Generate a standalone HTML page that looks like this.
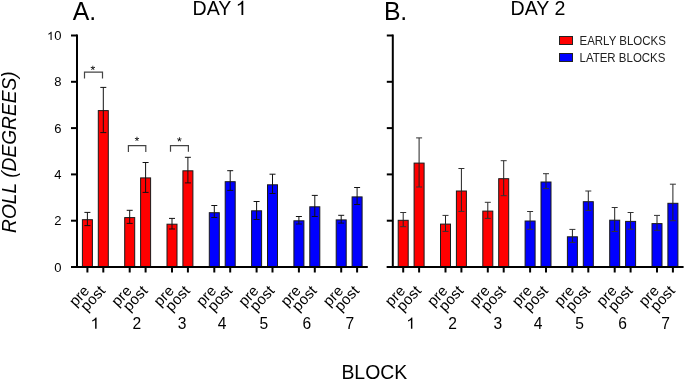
<!DOCTYPE html>
<html><head><meta charset="utf-8"><title>Roll by block</title><style>
html,body{margin:0;padding:0;background:#fff;}
body{width:685px;height:380px;overflow:hidden;}
.wrap{will-change:transform;width:685px;height:380px;}
svg{display:block;font-family:"Liberation Sans",sans-serif;}
</style></head><body>
<div class="wrap">
<svg width="685" height="380" viewBox="0 0 685 380">
<rect x="82.4" y="219.7" width="10" height="47.3" fill="#ff0000" stroke="#1a1a1a" stroke-width="1"/>
<path d="M87.4 212.4V225.6" stroke="#111" stroke-width="1" fill="none"/>
<path d="M84.4 212.4H90.4M84.4 225.6H90.4" stroke="#111" stroke-width="1" fill="none"/>
<path d="M87.4 267V272.5" stroke="#000" stroke-width="2"/>
<text transform="translate(90.3 291.4) rotate(-47)" text-anchor="end" font-size="15">pre</text>
<rect x="98.3" y="110.6" width="10" height="156.4" fill="#ff0000" stroke="#1a1a1a" stroke-width="1"/>
<path d="M103.3 87.4V132.6" stroke="#111" stroke-width="1" fill="none"/>
<path d="M100.3 87.4H106.3M100.3 132.6H106.3" stroke="#111" stroke-width="1" fill="none"/>
<path d="M103.3 267V272.5" stroke="#000" stroke-width="2"/>
<text transform="translate(106.2 291.4) rotate(-47)" text-anchor="end" font-size="15">post</text>
<path d="M763 0L583 0L583 1102Q518 1043 412 983Q306 924 222 894L222 1061Q373 1129 486 1226Q599 1324 646 1409L763 1409Z" transform="translate(90.463 328.7) scale(0.008 -0.008)" fill="#000"/>
<rect x="124.7" y="217.6" width="10" height="49.4" fill="#ff0000" stroke="#1a1a1a" stroke-width="1"/>
<path d="M129.7 210.3V223.4" stroke="#111" stroke-width="1" fill="none"/>
<path d="M126.7 210.3H132.7M126.7 223.4H132.7" stroke="#111" stroke-width="1" fill="none"/>
<path d="M129.7 267V272.5" stroke="#000" stroke-width="2"/>
<text transform="translate(132.6 291.4) rotate(-47)" text-anchor="end" font-size="15">pre</text>
<rect x="140.6" y="177.9" width="10" height="89.1" fill="#ff0000" stroke="#1a1a1a" stroke-width="1"/>
<path d="M145.6 162.5V192.4" stroke="#111" stroke-width="1" fill="none"/>
<path d="M142.6 162.5H148.6M142.6 192.4H148.6" stroke="#111" stroke-width="1" fill="none"/>
<path d="M145.6 267V272.5" stroke="#000" stroke-width="2"/>
<text transform="translate(148.5 291.4) rotate(-47)" text-anchor="end" font-size="15">post</text>
<text x="136.9" y="328.7" text-anchor="middle" font-size="15.6">2</text>
<rect x="167" y="224.2" width="10" height="42.8" fill="#ff0000" stroke="#1a1a1a" stroke-width="1"/>
<path d="M172 218.4V229" stroke="#111" stroke-width="1" fill="none"/>
<path d="M169 218.4H175M169 229H175" stroke="#111" stroke-width="1" fill="none"/>
<path d="M172 267V272.5" stroke="#000" stroke-width="2"/>
<text transform="translate(174.9 291.4) rotate(-47)" text-anchor="end" font-size="15">pre</text>
<rect x="182.9" y="170.8" width="10" height="96.2" fill="#ff0000" stroke="#1a1a1a" stroke-width="1"/>
<path d="M187.9 157.3V182.9" stroke="#111" stroke-width="1" fill="none"/>
<path d="M184.9 157.3H190.9M184.9 182.9H190.9" stroke="#111" stroke-width="1" fill="none"/>
<path d="M187.9 267V272.5" stroke="#000" stroke-width="2"/>
<text transform="translate(190.8 291.4) rotate(-47)" text-anchor="end" font-size="15">post</text>
<text x="182.1" y="328.7" text-anchor="middle" font-size="15.6">3</text>
<rect x="209.3" y="212.7" width="10" height="54.3" fill="#0000ff" stroke="#1a1a1a" stroke-width="1"/>
<path d="M214.3 205.5V217.5" stroke="#111" stroke-width="1" fill="none"/>
<path d="M211.3 205.5H217.3M211.3 217.5H217.3" stroke="#111" stroke-width="1" fill="none"/>
<path d="M214.3 267V272.5" stroke="#000" stroke-width="2"/>
<text transform="translate(217.2 291.4) rotate(-47)" text-anchor="end" font-size="15">pre</text>
<rect x="225.2" y="181.7" width="10" height="85.3" fill="#0000ff" stroke="#1a1a1a" stroke-width="1"/>
<path d="M230.2 170.7V190.4" stroke="#111" stroke-width="1" fill="none"/>
<path d="M227.2 170.7H233.2M227.2 190.4H233.2" stroke="#111" stroke-width="1" fill="none"/>
<path d="M230.2 267V272.5" stroke="#000" stroke-width="2"/>
<text transform="translate(233.1 291.4) rotate(-47)" text-anchor="end" font-size="15">post</text>
<text x="222.2" y="328.7" text-anchor="middle" font-size="15.6">4</text>
<rect x="251.6" y="210.8" width="10" height="56.2" fill="#0000ff" stroke="#1a1a1a" stroke-width="1"/>
<path d="M256.6 201.5V219.5" stroke="#111" stroke-width="1" fill="none"/>
<path d="M253.6 201.5H259.6M253.6 219.5H259.6" stroke="#111" stroke-width="1" fill="none"/>
<path d="M256.6 267V272.5" stroke="#000" stroke-width="2"/>
<text transform="translate(259.5 291.4) rotate(-47)" text-anchor="end" font-size="15">pre</text>
<rect x="267.5" y="184.8" width="10" height="82.2" fill="#0000ff" stroke="#1a1a1a" stroke-width="1"/>
<path d="M272.5 174.2V193.5" stroke="#111" stroke-width="1" fill="none"/>
<path d="M269.5 174.2H275.5M269.5 193.5H275.5" stroke="#111" stroke-width="1" fill="none"/>
<path d="M272.5 267V272.5" stroke="#000" stroke-width="2"/>
<text transform="translate(275.4 291.4) rotate(-47)" text-anchor="end" font-size="15">post</text>
<text x="263.8" y="328.7" text-anchor="middle" font-size="15.6">5</text>
<rect x="293.9" y="220.8" width="10" height="46.2" fill="#0000ff" stroke="#1a1a1a" stroke-width="1"/>
<path d="M298.9 216.5V224" stroke="#111" stroke-width="1" fill="none"/>
<path d="M295.9 216.5H301.9M295.9 224H301.9" stroke="#111" stroke-width="1" fill="none"/>
<path d="M298.9 267V272.5" stroke="#000" stroke-width="2"/>
<text transform="translate(301.8 291.4) rotate(-47)" text-anchor="end" font-size="15">pre</text>
<rect x="309.8" y="206.8" width="10" height="60.2" fill="#0000ff" stroke="#1a1a1a" stroke-width="1"/>
<path d="M314.8 195.4V216.5" stroke="#111" stroke-width="1" fill="none"/>
<path d="M311.8 195.4H317.8M311.8 216.5H317.8" stroke="#111" stroke-width="1" fill="none"/>
<path d="M314.8 267V272.5" stroke="#000" stroke-width="2"/>
<text transform="translate(317.7 291.4) rotate(-47)" text-anchor="end" font-size="15">post</text>
<text x="306.75" y="328.7" text-anchor="middle" font-size="15.6">6</text>
<rect x="336.2" y="219.9" width="10" height="47.1" fill="#0000ff" stroke="#1a1a1a" stroke-width="1"/>
<path d="M341.2 215.3V223.1" stroke="#111" stroke-width="1" fill="none"/>
<path d="M338.2 215.3H344.2M338.2 223.1H344.2" stroke="#111" stroke-width="1" fill="none"/>
<path d="M341.2 267V272.5" stroke="#000" stroke-width="2"/>
<text transform="translate(344.1 291.4) rotate(-47)" text-anchor="end" font-size="15">pre</text>
<rect x="352.1" y="196.9" width="10" height="70.1" fill="#0000ff" stroke="#1a1a1a" stroke-width="1"/>
<path d="M357.1 187.5V204.5" stroke="#111" stroke-width="1" fill="none"/>
<path d="M354.1 187.5H360.1M354.1 204.5H360.1" stroke="#111" stroke-width="1" fill="none"/>
<path d="M357.1 267V272.5" stroke="#000" stroke-width="2"/>
<text transform="translate(360 291.4) rotate(-47)" text-anchor="end" font-size="15">post</text>
<text x="349.85" y="328.7" text-anchor="middle" font-size="15.6">7</text>
<path d="M77 34.5V268" stroke="#000" stroke-width="2" fill="none"/>
<path d="M71 267H367.8" stroke="#000" stroke-width="2" fill="none"/>
<path d="M71 267H77" stroke="#000" stroke-width="2"/>
<text x="61.5" y="271.6" text-anchor="end" font-size="13">0</text>
<path d="M71 220.7H77" stroke="#000" stroke-width="2"/>
<text x="61.5" y="225.3" text-anchor="end" font-size="13">2</text>
<path d="M71 174.4H77" stroke="#000" stroke-width="2"/>
<text x="61.5" y="179" text-anchor="end" font-size="13">4</text>
<path d="M71 128.1H77" stroke="#000" stroke-width="2"/>
<text x="61.5" y="132.7" text-anchor="end" font-size="13">6</text>
<path d="M71 81.8H77" stroke="#000" stroke-width="2"/>
<text x="61.5" y="86.4" text-anchor="end" font-size="13">8</text>
<path d="M71 35.5H77" stroke="#000" stroke-width="2"/>
<path d="M763 0L583 0L583 1102Q518 1043 412 983Q306 924 222 894L222 1061Q373 1129 486 1226Q599 1324 646 1409L763 1409Z" transform="translate(47.044 40.1) scale(0.006 -0.006)" fill="#000"/>
<text x="54.272" y="40.1" font-size="13">0</text>
<rect x="398.2" y="220.3" width="10" height="46.7" fill="#ff0000" stroke="#1a1a1a" stroke-width="1"/>
<path d="M403.2 212.5V226.7" stroke="#222" stroke-width="1" fill="none"/>
<path d="M400.2 212.5H406.2M400.2 226.7H406.2" stroke="#333" stroke-width="1" fill="none"/>
<path d="M403.2 267V272.5" stroke="#000" stroke-width="2"/>
<text transform="translate(406.1 291.4) rotate(-47)" text-anchor="end" font-size="15">pre</text>
<rect x="414.1" y="163.1" width="10" height="103.9" fill="#ff0000" stroke="#1a1a1a" stroke-width="1"/>
<path d="M419.1 137.9V187" stroke="#222" stroke-width="1" fill="none"/>
<path d="M416.1 137.9H422.1M416.1 187H422.1" stroke="#333" stroke-width="1" fill="none"/>
<path d="M419.1 267V272.5" stroke="#000" stroke-width="2"/>
<text transform="translate(422 291.4) rotate(-47)" text-anchor="end" font-size="15">post</text>
<path d="M763 0L583 0L583 1102Q518 1043 412 983Q306 924 222 894L222 1061Q373 1129 486 1226Q599 1324 646 1409L763 1409Z" transform="translate(406.263 328.7) scale(0.008 -0.008)" fill="#000"/>
<rect x="440.5" y="224.1" width="10" height="42.9" fill="#ff0000" stroke="#1a1a1a" stroke-width="1"/>
<path d="M445.5 215.4V231.4" stroke="#222" stroke-width="1" fill="none"/>
<path d="M442.5 215.4H448.5M442.5 231.4H448.5" stroke="#333" stroke-width="1" fill="none"/>
<path d="M445.5 267V272.5" stroke="#000" stroke-width="2"/>
<text transform="translate(448.4 291.4) rotate(-47)" text-anchor="end" font-size="15">pre</text>
<rect x="456.4" y="191" width="10" height="76" fill="#ff0000" stroke="#1a1a1a" stroke-width="1"/>
<path d="M461.4 168.5V211.4" stroke="#222" stroke-width="1" fill="none"/>
<path d="M458.4 168.5H464.4M458.4 211.4H464.4" stroke="#333" stroke-width="1" fill="none"/>
<path d="M461.4 267V272.5" stroke="#000" stroke-width="2"/>
<text transform="translate(464.3 291.4) rotate(-47)" text-anchor="end" font-size="15">post</text>
<text x="452.7" y="328.7" text-anchor="middle" font-size="15.6">2</text>
<rect x="482.8" y="211.1" width="10" height="55.9" fill="#ff0000" stroke="#1a1a1a" stroke-width="1"/>
<path d="M487.8 202.3V218.4" stroke="#222" stroke-width="1" fill="none"/>
<path d="M484.8 202.3H490.8M484.8 218.4H490.8" stroke="#333" stroke-width="1" fill="none"/>
<path d="M487.8 267V272.5" stroke="#000" stroke-width="2"/>
<text transform="translate(490.7 291.4) rotate(-47)" text-anchor="end" font-size="15">pre</text>
<rect x="498.7" y="178.7" width="10" height="88.3" fill="#ff0000" stroke="#1a1a1a" stroke-width="1"/>
<path d="M503.7 160.7V195.7" stroke="#222" stroke-width="1" fill="none"/>
<path d="M500.7 160.7H506.7M500.7 195.7H506.7" stroke="#333" stroke-width="1" fill="none"/>
<path d="M503.7 267V272.5" stroke="#000" stroke-width="2"/>
<text transform="translate(506.6 291.4) rotate(-47)" text-anchor="end" font-size="15">post</text>
<text x="497.9" y="328.7" text-anchor="middle" font-size="15.6">3</text>
<rect x="525.1" y="221" width="10" height="46" fill="#0000ff" stroke="#1a1a1a" stroke-width="1"/>
<path d="M530.1 211.5V229.3" stroke="#222" stroke-width="1" fill="none"/>
<path d="M527.1 211.5H533.1M527.1 229.3H533.1" stroke="#333" stroke-width="1" fill="none"/>
<path d="M530.1 267V272.5" stroke="#000" stroke-width="2"/>
<text transform="translate(533 291.4) rotate(-47)" text-anchor="end" font-size="15">pre</text>
<rect x="541" y="182" width="10" height="85" fill="#0000ff" stroke="#1a1a1a" stroke-width="1"/>
<path d="M546 173.7V188.6" stroke="#222" stroke-width="1" fill="none"/>
<path d="M543 173.7H549M543 188.6H549" stroke="#333" stroke-width="1" fill="none"/>
<path d="M546 267V272.5" stroke="#000" stroke-width="2"/>
<text transform="translate(548.9 291.4) rotate(-47)" text-anchor="end" font-size="15">post</text>
<text x="538" y="328.7" text-anchor="middle" font-size="15.6">4</text>
<rect x="567.4" y="236.8" width="10" height="30.2" fill="#0000ff" stroke="#1a1a1a" stroke-width="1"/>
<path d="M572.4 229.4V242.4" stroke="#222" stroke-width="1" fill="none"/>
<path d="M569.4 229.4H575.4M569.4 242.4H575.4" stroke="#333" stroke-width="1" fill="none"/>
<path d="M572.4 267V272.5" stroke="#000" stroke-width="2"/>
<text transform="translate(575.3 291.4) rotate(-47)" text-anchor="end" font-size="15">pre</text>
<rect x="583.3" y="201.7" width="10" height="65.3" fill="#0000ff" stroke="#1a1a1a" stroke-width="1"/>
<path d="M588.3 191V210.4" stroke="#222" stroke-width="1" fill="none"/>
<path d="M585.3 191H591.3M585.3 210.4H591.3" stroke="#333" stroke-width="1" fill="none"/>
<path d="M588.3 267V272.5" stroke="#000" stroke-width="2"/>
<text transform="translate(591.2 291.4) rotate(-47)" text-anchor="end" font-size="15">post</text>
<text x="579.6" y="328.7" text-anchor="middle" font-size="15.6">5</text>
<rect x="609.7" y="220.2" width="10" height="46.8" fill="#0000ff" stroke="#1a1a1a" stroke-width="1"/>
<path d="M614.7 207.5V231.5" stroke="#222" stroke-width="1" fill="none"/>
<path d="M611.7 207.5H617.7M611.7 231.5H617.7" stroke="#333" stroke-width="1" fill="none"/>
<path d="M614.7 267V272.5" stroke="#000" stroke-width="2"/>
<text transform="translate(617.6 291.4) rotate(-47)" text-anchor="end" font-size="15">pre</text>
<rect x="625.6" y="221.4" width="10" height="45.6" fill="#0000ff" stroke="#1a1a1a" stroke-width="1"/>
<path d="M630.6 212.5V229.2" stroke="#222" stroke-width="1" fill="none"/>
<path d="M627.6 212.5H633.6M627.6 229.2H633.6" stroke="#333" stroke-width="1" fill="none"/>
<path d="M630.6 267V272.5" stroke="#000" stroke-width="2"/>
<text transform="translate(633.5 291.4) rotate(-47)" text-anchor="end" font-size="15">post</text>
<text x="622.55" y="328.7" text-anchor="middle" font-size="15.6">6</text>
<rect x="652" y="223.6" width="10" height="43.4" fill="#0000ff" stroke="#1a1a1a" stroke-width="1"/>
<path d="M657 215.4V230.3" stroke="#222" stroke-width="1" fill="none"/>
<path d="M654 215.4H660M654 230.3H660" stroke="#333" stroke-width="1" fill="none"/>
<path d="M657 267V272.5" stroke="#000" stroke-width="2"/>
<text transform="translate(659.9 291.4) rotate(-47)" text-anchor="end" font-size="15">pre</text>
<rect x="667.9" y="203.3" width="10" height="63.7" fill="#0000ff" stroke="#1a1a1a" stroke-width="1"/>
<path d="M672.9 184.2V220.7" stroke="#222" stroke-width="1" fill="none"/>
<path d="M669.9 184.2H675.9M669.9 220.7H675.9" stroke="#333" stroke-width="1" fill="none"/>
<path d="M672.9 267V272.5" stroke="#000" stroke-width="2"/>
<text transform="translate(675.8 291.4) rotate(-47)" text-anchor="end" font-size="15">post</text>
<text x="665.65" y="328.7" text-anchor="middle" font-size="15.6">7</text>
<path d="M392.8 34.5V268" stroke="#000" stroke-width="2" fill="none"/>
<path d="M386.8 267H683.6" stroke="#000" stroke-width="2" fill="none"/>
<path d="M386.8 267H392.8" stroke="#000" stroke-width="2"/>
<path d="M386.8 220.7H392.8" stroke="#000" stroke-width="2"/>
<path d="M386.8 174.4H392.8" stroke="#000" stroke-width="2"/>
<path d="M386.8 128.1H392.8" stroke="#000" stroke-width="2"/>
<path d="M386.8 81.8H392.8" stroke="#000" stroke-width="2"/>
<path d="M386.8 35.5H392.8" stroke="#000" stroke-width="2"/>
<path d="M84.5 78.6V72.2H102.5V78.6" stroke="#444" stroke-width="1.2" fill="none"/>
<path d="M456 1114L720 1217L765 1085L483 1012L668 762L549 690L399 948L243 692L124 764L313 1012L33 1085L78 1219L345 1112L333 1409L469 1409Z" transform="translate(90.467 74.162) scale(0.006 -0.006)" fill="#000"/>
<path d="M128.4 151.9V145.6H145.8V151.9" stroke="#444" stroke-width="1.2" fill="none"/>
<path d="M456 1114L720 1217L765 1085L483 1012L668 762L549 690L399 948L243 692L124 764L313 1012L33 1085L78 1219L345 1112L333 1409L469 1409Z" transform="translate(134.567 145.262) scale(0.006 -0.006)" fill="#000"/>
<path d="M170.5 151.7V145.55H188.4V151.7" stroke="#444" stroke-width="1.2" fill="none"/>
<path d="M456 1114L720 1217L765 1085L483 1012L668 762L549 690L399 948L243 692L124 764L313 1012L33 1085L78 1219L345 1112L333 1409L469 1409Z" transform="translate(176.967 145.662) scale(0.006 -0.006)" fill="#000"/>
<text transform="translate(72.8 19.7) scale(1 1.04)" font-size="24.8">A<tspan dx="0">.</tspan></text>
<text transform="translate(384.1 19.7) scale(1 1.04)" font-size="24.8">B<tspan dx="-0.3">.</tspan></text>
<text x="192.6" y="14.9" font-size="19.6">DAY </text>
<path d="M763 0L583 0L583 1102Q518 1043 412 983Q306 924 222 894L222 1061Q373 1129 486 1226Q599 1324 646 1409L763 1409Z" transform="translate(235.646 14.9) scale(0.01 -0.01)" fill="#000"/>
<text x="510.5" y="15" font-size="19.6">DAY 2</text>
<text transform="translate(15.5 152.1) rotate(-90) scale(1 1.08)" text-anchor="middle" font-size="19.2" font-style="italic">ROLL (DEGREES)</text>
<text transform="translate(374.3 379) scale(1 1.03)" text-anchor="middle" font-size="19.4">BLOCK</text>
<rect x="559.5" y="36.5" width="13" height="8" fill="#ff0000" stroke="#222" stroke-width="1"/>
<rect x="559.5" y="53.5" width="13" height="8" fill="#0000ff" stroke="#222" stroke-width="1"/>
<text transform="translate(579.5 44.6) scale(1 1.07)" font-size="11.5" fill="#222">EARLY BLOCKS</text>
<text transform="translate(579.5 61.6) scale(1 1.07)" font-size="11.5" fill="#222">LATER BLOCKS</text>
</svg>
</div>
</body></html>
